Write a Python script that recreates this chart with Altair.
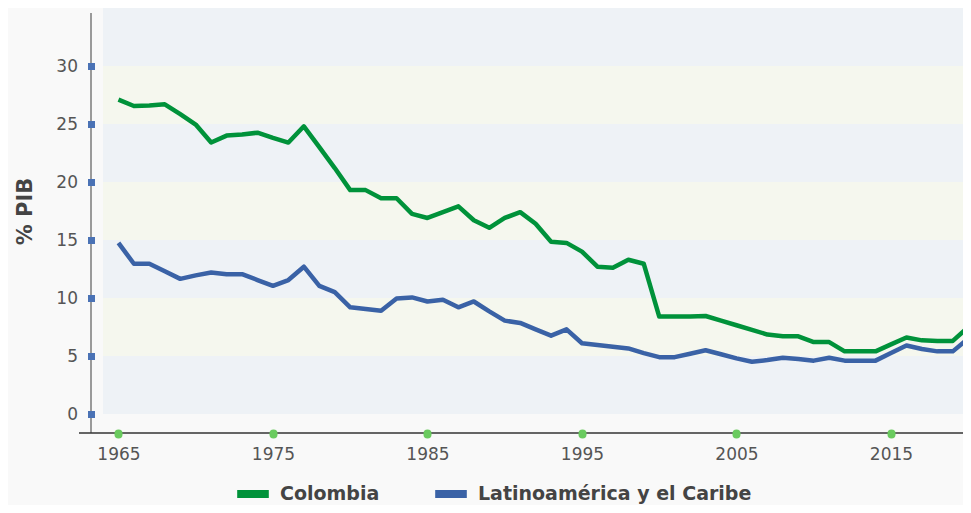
import altair as alt
import pandas as pd

years = list(range(1965, 2021))
colombia = [27.1, 26.55, 26.6, 26.7, 25.85, 24.95, 23.4, 24.0, 24.1, 24.25,
            23.8, 23.4, 24.8, 23.0, 21.2, 19.3, 19.3, 18.6, 18.6, 17.25,
            16.9, 17.4, 17.9, 16.7, 16.05, 16.9, 17.4, 16.4, 14.85, 14.75,
            14.0, 12.7, 12.6, 13.3, 12.95, 8.4, 8.4, 8.4, 8.45, 8.05,
            7.65, 7.25, 6.85, 6.7, 6.7, 6.2, 6.2, 5.4, 5.4, 5.4,
            6.0, 6.6, 6.35, 6.3, 6.3, 7.5]
lac = [14.75, 12.95, 12.95, 12.3, 11.65, 11.95, 12.2, 12.05, 12.05, 11.55,
       11.05, 11.55, 12.7, 11.05, 10.5, 9.2, 9.05, 8.9, 9.95, 10.05,
       9.7, 9.85, 9.2, 9.7, 8.85, 8.05, 7.85, 7.3, 6.75, 7.3,
       6.1, 5.95, 5.8, 5.65, 5.25, 4.9, 4.9, 5.2, 5.5, 5.15,
       4.8, 4.5, 4.65, 4.85, 4.75, 4.6, 4.85, 4.6, 4.6, 4.6,
       5.25, 5.9, 5.6, 5.4, 5.4, 6.5]
series_names = ["Colombia", "Latinoamérica y el Caribe"]
series_colors = ["#00923a", "#3a62a6"]
x_ticks = [1965, 1975, 1985, 1995, 2005, 2015]
y_ticks = [0, 5, 10, 15, 20, 25, 30]
band_lo = [0, 5, 10, 15, 20, 25, 30]
band_hi = [5, 10, 15, 20, 25, 30, 35]
band_fill = ["#eef2f6", "#f5f7ee", "#eef2f6", "#f5f7ee", "#eef2f6", "#f5f7ee", "#eef2f6"]

W, H = 860, 406

df = pd.DataFrame({
    "year": years * 2,
    "value": colombia + lac,
    "serie": [series_names[0]] * len(years) + [series_names[1]] * len(years),
})
bands = pd.DataFrame({"lo": band_lo, "hi": band_hi, "fill": band_fill})
one = pd.DataFrame({"a": [0]})

yscale = alt.Scale(domain=[0, 35], nice=False, zero=False)
xscale = alt.Scale(domain=[1964, 2019.66], nice=False, zero=False)

yaxis = alt.Axis(values=y_ticks, title="% PIB", offset=8.5,
                 domain=False, grid=False, tickColor="#4a72b5",
                 tickWidth=7, tickSize=7, labelPadding=10,
                 labelFontSize=17, labelColor="#555555",
                 titleFontSize=21, titleFontWeight="bold",
                 titleColor="#444444", titlePadding=20, zindex=1)

band_layer = alt.Chart(bands).mark_rect().encode(
    x=alt.value(0), x2=alt.value(W),
    y=alt.Y("lo:Q", scale=yscale, axis=yaxis),
    y2="hi:Q",
    fill=alt.Fill("fill:N", scale=None),
)

yline = alt.Chart(one).mark_rule(color="#9a9a9a", strokeWidth=2).encode(
    x=alt.value(-12), y=alt.value(5), y2=alt.value(425)
)
xline = alt.Chart(one).mark_rule(color="#333333", strokeWidth=1.5).encode(
    x=alt.value(-24), x2=alt.value(W), y=alt.value(425)
)

lines = alt.Chart(df).mark_line(strokeWidth=4.5, strokeJoin="round", clip=True).encode(
    x=alt.X("year:Q", scale=xscale,
            axis=alt.Axis(values=x_ticks, format="d", title=None, offset=19,
                          domain=False, grid=False, tickColor="#6acb5f",
                          tickWidth=8, tickSize=1, tickCap="round",
                          labelPadding=12, labelFontSize=17, labelColor="#555555",
                          labelFlush=False, zindex=1)),
    y=alt.Y("value:Q", scale=yscale, axis=yaxis),
    color=alt.Color("serie:N",
                    scale=alt.Scale(domain=series_names, range=series_colors),
                    sort=series_names,
                    legend=alt.Legend(title=None, orient="none", direction="horizontal",
                                      legendX=130, legendY=466,
                                      labelFontSize=19, labelFontWeight="bold",
                                      labelColor="#444444", symbolType="stroke",
                                      symbolStrokeWidth=8, symbolSize=1000,
                                      labelLimit=400,
                                      labelOffset=7, columnPadding=39)),
)

chart = alt.layer(band_layer, yline, xline, lines).properties(
    width=W, height=H,
    autosize=alt.AutoSizeParams(type="none"),
    padding={"left": 95, "top": 0, "right": 0, "bottom": 91},
).configure(
    background="#f9f9f9",
    font="DejaVu Sans",
).configure_view(stroke=None)

chart.save("out.html", embed_options={"renderer": "svg", "actions": False})
